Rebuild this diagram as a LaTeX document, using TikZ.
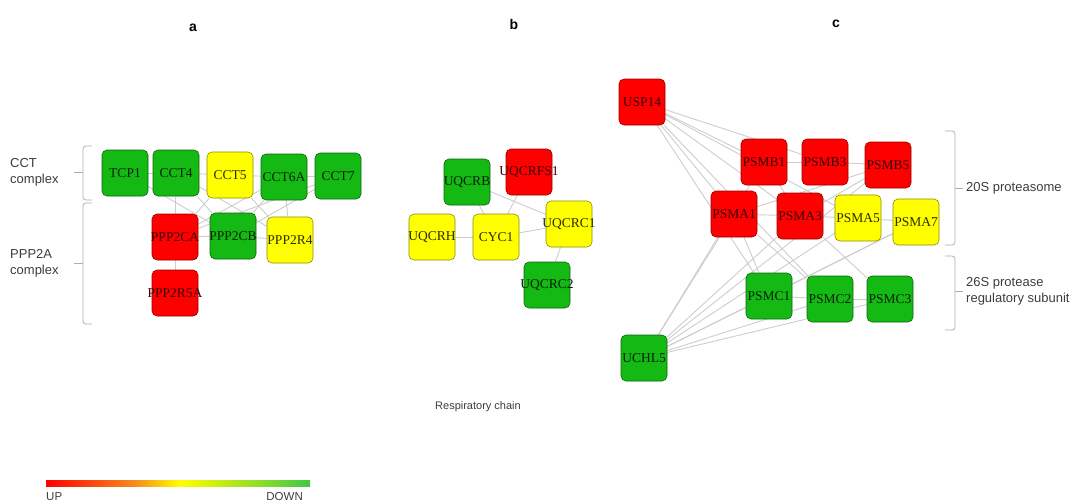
\documentclass[tikz,border=0pt]{standalone}
\usepackage{fontspec}
\setmainfont{Liberation Serif}
\setsansfont{Liberation Sans}
\usetikzlibrary{backgrounds}
\definecolor{nred}{RGB}{255,0,0}
\definecolor{ngreen}{RGB}{20,185,20}
\definecolor{nyellow}{RGB}{255,255,0}
\definecolor{edgec}{RGB}{205,205,205}
\definecolor{labc}{RGB}{60,60,60}
\definecolor{barorange}{RGB}{245,140,30}
\newcommand\gtxt[1]{\makebox[0pt][c]{#1}}
\tikzset{
  gene/.style={draw, rounded corners=5pt, minimum width=46pt, minimum height=46pt, inner sep=0pt,
    font=\fontsize{13.5}{13.5}\selectfont, line width=0.6pt},
  upc/.style={gene, fill=nred, draw=nred!60!black, text=nred!22!black},
  downc/.style={gene, fill=ngreen, draw=ngreen!55!black, text=ngreen!18!black},
  midc/.style={gene, fill=nyellow, draw=nyellow!55!black, text=nyellow!18!black},
  edge/.style={draw=edgec, line width=0.9pt},
  bracec/.style={draw=edgec!85!black, line width=0.8pt, rounded corners=3pt},
  grouplab/.style={font=\sffamily\fontsize{13}{16}\selectfont, text=labc, align=left, inner sep=0pt},
  smalllab/.style={font=\sffamily\fontsize{11}{13}\selectfont, text=labc, inner sep=0pt},
  paneltitle/.style={font=\sffamily\bfseries\fontsize{14}{14}\selectfont, inner sep=0pt},
}
\begin{document}
\begin{tikzpicture}[x=1pt,y=-1pt]
\useasboundingbox (0,0) rectangle (1073,503);
% titles
\node[paneltitle] (ta) at (193,28) {a};
\node[paneltitle] (tb) at (514,24) {b};
\node[paneltitle] (tc) at (836,24) {c};
% panel a
\node[downc] (TCP1) at (125,173) {\gtxt{TCP1}};
\node[downc] (CCT4) at (176,173) {\gtxt{CCT4}};
\node[midc] (CCT5) at (230,175) {\gtxt{CCT5}};
\node[downc] (CCT6A) at (284,177) {\gtxt{CCT6A}};
\node[downc] (CCT7) at (338,176) {\gtxt{CCT7}};
\node[upc] (PPP2CA) at (175,237) {\gtxt{PPP2CA}};
\node[downc] (PPP2CB) at (233,236) {\gtxt{PPP2CB}};
\node[midc] (PPP2R4) at (290,240) {\gtxt{PPP2R4}};
\node[upc] (PPP2R5A) at (175,293) {\gtxt{PPP2R5A}};
\node[grouplab, anchor=west] (lcct) at (10,172) {CCT\\complex};
\node[grouplab, anchor=west] (lppp) at (10,263) {PPP2A\\complex};
\draw[bracec] (92,146) -- (83,146) -- (83,200) -- (92,200);
\draw[bracec] (83,172) -- (74,172);
\draw[bracec] (92,203) -- (83,203) -- (83,324) -- (92,324);
\draw[bracec] (83,263) -- (74,263);
% panel b
\node[downc] (UQCRB) at (467,182) {\gtxt{UQCRB}};
\node[upc] (UQCRFS1) at (529,172) {\gtxt{UQCRFS1}};
\node[midc] (UQCRH) at (432,237) {\gtxt{UQCRH}};
\node[midc] (CYC1) at (496,237) {\gtxt{CYC1}};
\node[midc] (UQCRC1) at (569,224) {\gtxt{UQCRC1}};
\node[downc] (UQCRC2) at (547,285) {\gtxt{UQCRC2}};
\node[smalllab] (lresp) at (478,407) {Respiratory chain};
% panel c
\node[upc] (USP14) at (642,102) {\gtxt{USP14}};
\node[upc] (PSMB1) at (764,162) {\gtxt{PSMB1}};
\node[upc] (PSMB3) at (825,162) {\gtxt{PSMB3}};
\node[upc] (PSMB5) at (888,165) {\gtxt{PSMB5}};
\node[upc] (PSMA1) at (734,214) {\gtxt{PSMA1}};
\node[upc] (PSMA3) at (800,216) {\gtxt{PSMA3}};
\node[midc] (PSMA5) at (858,218) {\gtxt{PSMA5}};
\node[midc] (PSMA7) at (916,222) {\gtxt{PSMA7}};
\node[downc] (PSMC1) at (769,296) {\gtxt{PSMC1}};
\node[downc] (PSMC2) at (830,299) {\gtxt{PSMC2}};
\node[downc] (PSMC3) at (890,299) {\gtxt{PSMC3}};
\node[downc] (UCHL5) at (644,358) {\gtxt{UCHL5}};
\draw[bracec] (945,131) -- (955,131) -- (955,245) -- (945,245);
\draw[bracec] (955,188) -- (963,188);
\draw[bracec] (945,256) -- (955,256) -- (955,330) -- (945,330);
\draw[bracec] (955,291) -- (963,291);
\node[grouplab, anchor=west] (l20s) at (966,188) {20S proteasome};
\node[grouplab, anchor=west] (l26s) at (966,291) {26S protease\\regulatory subunit};
% colour bar
\shade[left color=nred, right color=barorange] (46,480) rectangle (135,486);
\shade[left color=barorange, right color=nyellow] (135,480) rectangle (180,486);
\shade[left color=nyellow, right color=ngreen!80!white] (180,480) rectangle (310,486);
\node[smalllab, font=\sffamily\fontsize{11.5}{12}\selectfont, anchor=west] (lup) at (46,497) {UP};
\node[smalllab, font=\sffamily\fontsize{11.5}{12}\selectfont, anchor=east] (ldown) at (303,497) {DOWN};
% edges
\begin{scope}[on background layer]
\draw[edge] (TCP1) -- (CCT4);
\draw[edge] (CCT4) -- (CCT5);
\draw[edge] (CCT5) -- (CCT6A);
\draw[edge] (CCT6A) -- (CCT7);
\draw[edge] (PPP2CA) -- (PPP2CB);
\draw[edge] (PPP2CB) -- (PPP2R4);
\draw[edge] (PPP2CA) -- (PPP2R5A);
\draw[edge] (TCP1) -- (PPP2CB);
\draw[edge] (CCT4) -- (PPP2CB);
\draw[edge] (CCT4) -- (PPP2R4);
\draw[edge] (CCT5) -- (PPP2CA);
\draw[edge] (CCT5) -- (PPP2R4);
\draw[edge] (CCT6A) -- (PPP2CA);
\draw[edge] (CCT6A) -- (PPP2CB);
\draw[edge] (CCT7) -- (PPP2CB);
\draw[edge] (CCT7) -- (PPP2CA);
\draw[edge] (CCT4) -- (PPP2CA);
\draw[edge] (CCT6A) -- (PPP2R4);
% b
\draw[edge] (UQCRH) -- (CYC1);
\draw[edge] (UQCRB) -- (CYC1);
\draw[edge] (UQCRFS1) -- (CYC1);
\draw[edge] (CYC1) -- (UQCRC1);
\draw[edge] (UQCRB) -- (UQCRC1);
\draw[edge] (UQCRC1) -- (UQCRC2);
% c
\draw[edge] (USP14) -- (PSMB3);
\draw[edge] (USP14) -- (PSMB1);
\draw[edge] (USP14) -- (PSMA1);
\draw[edge] (USP14) -- (PSMA3);
\draw[edge] (USP14) -- (PSMA5);
\draw[edge] (USP14) -- (PSMC1);
\draw[edge] (USP14) -- (PSMC2);
\draw[edge] (UCHL5) -- (PSMA1);
\draw[edge] (UCHL5) -- (PSMB1);
\draw[edge] (UCHL5) -- (PSMA3);
\draw[edge] (UCHL5) -- (PSMB5);
\draw[edge] (UCHL5) -- (PSMA5);
\draw[edge] (UCHL5) -- (PSMA7);
\draw[edge] (UCHL5) -- (PSMC1);
\draw[edge] (UCHL5) -- (PSMC2);
\draw[edge] (UCHL5) -- (PSMC3);
\draw[edge] (PSMB1) -- (PSMB3);
\draw[edge] (PSMB3) -- (PSMB5);
\draw[edge] (PSMA1) -- (PSMA3);
\draw[edge] (PSMA3) -- (PSMA5);
\draw[edge] (PSMA5) -- (PSMA7);
\draw[edge] (PSMC1) -- (PSMC2);
\draw[edge] (PSMC2) -- (PSMC3);
\draw[edge] (PSMA1) -- (PSMB5);
\draw[edge] (PSMA3) -- (PSMB5);
\draw[edge] (PSMA1) -- (PSMC1);
\draw[edge] (PSMA1) -- (PSMC2);
\draw[edge] (PSMA3) -- (PSMC3);
\draw[edge] (PSMA7) -- (PSMC1);
\draw[edge] (PSMB1) -- (PSMA3);
\end{scope}
\end{tikzpicture}
\end{document}
